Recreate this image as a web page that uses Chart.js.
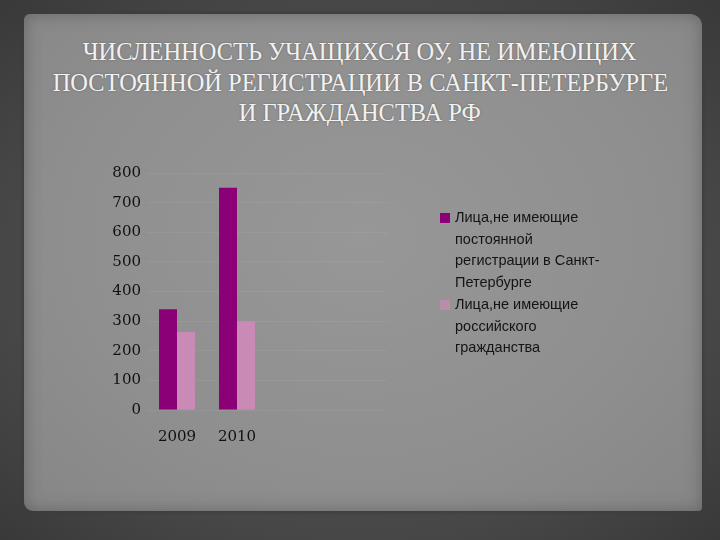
<!DOCTYPE html>
<html>
<head>
<meta charset="utf-8">
<script src="https://cdn.jsdelivr.net/npm/chart.js@4/dist/chart.umd.min.js"></script>
<style>
  html, body { margin:0; padding:0; }
  body { width:720px; height:540px; overflow:hidden; position:relative;
    background: radial-gradient(ellipse at 50% 50%, #575757 0%, #474747 70%, #393939 100%); }
  #paper { position:absolute; left:24px; top:14px; width:678px; height:497px;
    background: radial-gradient(ellipse at 50% 45%, #979797 0%, #8f8f8f 60%, #868686 100%);
    border-radius: 6px 12px 4px 9px;
    box-shadow: 0 0 3px 2px rgba(60,60,60,0.8), inset 0 0 16px rgba(70,70,70,0.5); }
  #title { position:absolute; left:0; top:37px; width:720px; text-align:center;
    font-family:"Liberation Serif", serif; font-size:26px; line-height:30.5px; color:#f2f2f2;
    text-shadow: 0 0 2px rgba(90,90,90,0.9); }
  #title div { display:block; }
  #title span { display:inline-block; transform:scaleX(0.94); transform-origin:50% 50%; white-space:nowrap; }
  #chartWrap { position:absolute; left:0; top:0; width:720px; height:540px; }
  #legend { position:absolute; left:440px; top:207px; width:200px;
    font-family:"Liberation Sans Narrow","Liberation Sans",sans-serif; font-size:14.5px; line-height:21.7px; color:#141414; }
  .item { position:relative; padding-left:15px; }
  .sw { position:absolute; left:0; top:6px; width:10px; height:10px; }
  .txt { display:block; }
</style>
</head>
<body>
<div id="paper"></div>
<div id="title"></div>
<div id="chartWrap"><canvas id="c" width="720" height="540"></canvas></div>
<div id="legend"></div>
<script>
const titleLines = ["ЧИСЛЕННОСТЬ УЧАЩИХСЯ ОУ, НЕ ИМЕЮЩИХ", "ПОСТОЯННОЙ РЕГИСТРАЦИИ В САНКТ-ПЕТЕРБУРГЕ", "И ГРАЖДАНСТВА РФ"];
const categories = ["2009", "2010", "", ""];
const seriesNames = ["Лица,не имеющие постоянной регистрации в Санкт-Петербурге", "Лица,не имеющие российского гражданства"];
const legendLines = [["Лица,не имеющие", "постоянной", "регистрации в Санкт-", "Петербурге"], ["Лица,не имеющие", "российского", "гражданства"]];
const noRegistration = [340, 750, null, null];
const noCitizenship = [263, 300, null, null];
const yMin = 0, yMax = 800, yStep = 100;
const colors = ["#8c0077", "#c98bb6"];

document.getElementById('title').innerHTML = titleLines.map(t => '<div><span>' + t + '</span></div>').join('');

const lg = document.getElementById('legend');
legendLines.forEach((lines, i) => {
  const it = document.createElement('div');
  it.className = 'item';
  it.innerHTML = '<span class="sw" style="background:' + colors[i] + (i === 1 ? ';opacity:0.7' : '') + '"></span>' +
    lines.map(l => '<span class="txt">' + l + '</span>').join('');
  lg.appendChild(it);
});

new Chart(document.getElementById('c'), {
  type: 'bar',
  data: {
    labels: categories,
    datasets: [
      { label: seriesNames[0], data: noRegistration, backgroundColor: colors[0], borderWidth: 0 },
      { label: seriesNames[1], data: noCitizenship, backgroundColor: colors[1], borderWidth: 0 }
    ]
  },
  options: {
    responsive: false,
    animation: false,
    events: [],
    layout: { padding: { left: 0, right: 333, top: 173, bottom: 0 } },
    plugins: { legend: { display: false }, title: { display: false }, tooltip: { enabled: false } },
    datasets: { bar: { categoryPercentage: 0.6, barPercentage: 1.0 } },
    scales: {
      x: {
        grid: { display: false, drawTicks: false },
        border: { display: false },
        ticks: { color: '#111', padding: 18, font: { family: 'DejaVu Serif', size: 15 } },
        afterFit: s => { s.height = 130; }
      },
      y: {
        min: yMin, max: yMax,
        grid: { color: 'rgba(230,230,230,0.08)', lineWidth: 1, drawTicks: false },
        border: { display: false },
        ticks: { stepSize: yStep, color: '#111', padding: 6, font: { family: 'DejaVu Serif', size: 15 } },
        afterFit: s => { s.width = 147; }
      }
    }
  }
});
</script>
</body>
</html>
